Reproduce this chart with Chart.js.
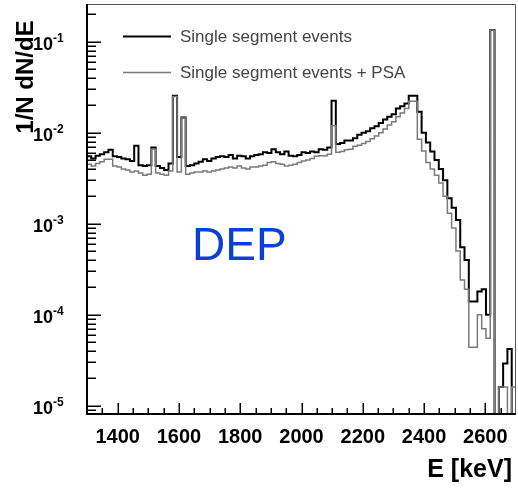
<!DOCTYPE html>
<html>
<head>
<meta charset="utf-8">
<script src="https://cdn.jsdelivr.net/npm/chart.js@4.4.1/dist/chart.umd.min.js"></script>
<style>
  html, body { margin: 0; padding: 0; background: #fff; }
  canvas { display: block; }
</style>
</head>
<body>
<canvas id="spectrum" width="518" height="488"></canvas>
<script>
// histogram, 100 bins of 14 keV starting at 1300 keV
const binStart = 1300;
const binWidth = 14;

// 1/N dN/dE per bin (0 = empty bin)
const singleSeg = [
  0.0055, 0.0052, 0.0056, 0.0058, 0.0061, 0.0065, 0.0055, 0.0054, 0.0052, 0.0051,
  0.0049, 0.0072, 0.0044, 0.0043, 0.0044, 0.0069, 0.0043, 0.0041, 0.0039, 0.0046,
  0.0255, 0.0054, 0.0147, 0.0043, 0.0044, 0.0046, 0.0048, 0.0051, 0.0049, 0.0052,
  0.0054, 0.0055, 0.0054, 0.0057, 0.0052, 0.0056, 0.0055, 0.0052, 0.0055, 0.0057,
  0.0058, 0.0061, 0.0060, 0.0066, 0.0061, 0.0058, 0.0062, 0.0056, 0.0055, 0.0057,
  0.0061, 0.0060, 0.0062, 0.0061, 0.0066, 0.0065, 0.0069, 0.0224, 0.0075, 0.0077,
  0.0082, 0.0082, 0.0087, 0.0095, 0.0100, 0.0104, 0.0112, 0.0118, 0.0128, 0.0140,
  0.0150, 0.0160, 0.0185, 0.0195, 0.0210, 0.0255, 0.0255, 0.0170, 0.0100, 0.0078,
  0.0062, 0.0050, 0.0040, 0.0030, 0.0019, 0.0015, 0.0011, 0.00055, 0.00040, 0.00014,
  0.00014, 0.00018, 0.00019, 0.00010, 0.135, 0, 1.6e-5, 2.9e-5, 4.2e-5, 0
];
const singleSegPSA = [
  0.0045, 0.0043, 0.0046, 0.0048, 0.0051, 0.0051, 0.0043, 0.0042, 0.0040, 0.0039,
  0.0037, 0.0038, 0.0036, 0.0034, 0.0035, 0.0066, 0.0036, 0.0035, 0.0034, 0.0038,
  0.0250, 0.0037, 0.0145, 0.0035, 0.0036, 0.0037, 0.0037, 0.0038, 0.0037, 0.0038,
  0.0039, 0.0040, 0.0041, 0.0042, 0.0041, 0.0043, 0.0041, 0.0040, 0.0042, 0.0042,
  0.0043, 0.0044, 0.0047, 0.0048, 0.0046, 0.0045, 0.0043, 0.0044, 0.0045, 0.0047,
  0.0049, 0.0050, 0.0052, 0.0055, 0.0056, 0.0056, 0.0058, 0.0119, 0.0061, 0.0062,
  0.0065, 0.0066, 0.0071, 0.0073, 0.0076, 0.0080, 0.0086, 0.0092, 0.0100, 0.0110,
  0.0122, 0.0132, 0.0150, 0.0165, 0.0185, 0.0222, 0.0222, 0.0085, 0.0063, 0.0047,
  0.0040, 0.0034, 0.0028, 0.0020, 0.0013, 0.0009, 0.0005, 0.00024, 0.00019, 0.000044,
  0.000044, 0.00010, 0.00007, 0.000055, 0.135, 0, 1.6e-5, 1.6e-5, 0, 1.6e-5
];

const xTickLabels = ['1400', '1600', '1800', '2000', '2200', '2400', '2600'];
const yDecades = [-5, -4, -3, -2, -1];
const legendLabels = ['Single segment events', 'Single segment events + PSA'];

const FONT = '"Liberation Sans", Arial, Helvetica, sans-serif';

// bin contents -> step points at the bin edges; empty bins fall below the axis
function toSteps(values) {
  const pts = values.map((v, i) => ({ x: binStart + i * binWidth, y: v > 0 ? v : 1e-7 }));
  pts.push({ x: binStart + values.length * binWidth, y: pts[pts.length - 1].y });
  return pts;
}

// ROOT-like frame: inward ticks, 10^n labels, legend and the DEP note
const rootFrame = {
  id: 'rootFrame',
  afterDraw(chart) {
    const { ctx, chartArea: a } = chart;
    const xs = chart.scales.x, ys = chart.scales.y;
    ctx.save();

    ctx.strokeStyle = '#555';
    ctx.lineWidth = 1;
    ctx.beginPath();
    ctx.moveTo(a.left, a.top + 0.5);
    ctx.lineTo(a.right - 0.5, a.top + 0.5);
    ctx.lineTo(a.right - 0.5, a.bottom);
    ctx.stroke();

    ctx.strokeStyle = '#000';
    ctx.lineWidth = 2;
    ctx.beginPath();
    ctx.moveTo(a.left, a.top);
    ctx.lineTo(a.left, a.bottom);
    ctx.lineTo(a.right, a.bottom);
    ctx.stroke();

    // y ticks
    ctx.lineWidth = 1.5;
    for (let d = -6; d <= 0; d++) {
      for (let m = 1; m < 10; m++) {
        const v = m * Math.pow(10, d);
        if (v < ys.min || v > ys.max) continue;
        const py = Math.round(ys.getPixelForValue(v)) + 0.25;
        ctx.beginPath();
        ctx.moveTo(a.left, py);
        ctx.lineTo(a.left + (m === 1 ? 14 : 9), py);
        ctx.stroke();
      }
    }
    // x ticks every 50 keV, long ones every 200
    for (let e = 1350; e < 2700; e += 50) {
      const px = Math.round(xs.getPixelForValue(e)) + 0.25;
      ctx.beginPath();
      ctx.moveTo(px, a.bottom);
      ctx.lineTo(px, a.bottom - (e % 200 === 0 ? 11 : 6));
      ctx.stroke();
    }

    ctx.fillStyle = '#000';
    // x labels
    ctx.font = 'bold 20px ' + FONT;
    ctx.textAlign = 'center';
    ctx.textBaseline = 'middle';
    xTickLabels.forEach(t => ctx.fillText(t, xs.getPixelForValue(Number(t)), 437));

    // y labels 10^n
    yDecades.forEach(e => {
      const py = ys.getPixelForValue(Math.pow(10, e));
      ctx.font = 'bold 18px ' + FONT;
      ctx.textAlign = 'right';
      ctx.textBaseline = 'middle';
      ctx.fillText('10', 53, py + 3);
      ctx.font = 'bold 12px ' + FONT;
      ctx.textAlign = 'left';
      ctx.fillText('-' + Math.abs(e), 53, py - 3);
    });

    // axis titles
    ctx.font = 'bold 25px ' + FONT;
    ctx.textAlign = 'right';
    ctx.textBaseline = 'middle';
    ctx.fillText('E [keV]', 512, 470);

    ctx.save();
    ctx.translate(26, 77);
    ctx.rotate(-Math.PI / 2);
    ctx.font = 'bold 24px ' + FONT;
    ctx.textAlign = 'center';
    ctx.fillText('1/N dN/dE', 0, 0);
    ctx.restore();

    // legend
    const ds = chart.data.datasets;
    [ds[1], ds[0]].forEach((d, i) => {
      const ly = 36.5 + i * 36;
      ctx.strokeStyle = d.borderColor;
      ctx.lineWidth = d.borderWidth;
      ctx.beginPath();
      ctx.moveTo(123, ly);
      ctx.lineTo(171, ly);
      ctx.stroke();
      ctx.fillStyle = '#444';
      ctx.font = '17px ' + FONT;
      ctx.textAlign = 'left';
      ctx.fillText(d.label, 180, ly + 1);
    });

    // DEP note
    ctx.fillStyle = '#0b3fd6';
    ctx.font = '46px ' + FONT;
    ctx.textAlign = 'left';
    ctx.textBaseline = 'alphabetic';
    ctx.fillText('DEP', 192, 260);

    ctx.restore();
  }
};

new Chart(document.getElementById('spectrum'), {
  type: 'line',
  data: {
    datasets: [
      {
        label: legendLabels[1],
        data: toSteps(singleSegPSA),
        borderColor: '#7a7a7a',
        borderWidth: 1.5,
        stepped: 'before',
        pointRadius: 0,
        fill: false,
        order: 0
      },
      {
        label: legendLabels[0],
        data: toSteps(singleSeg),
        borderColor: '#000',
        borderWidth: 2,
        stepped: 'before',
        pointRadius: 0,
        fill: false,
        order: 1
      }
    ]
  },
  options: {
    responsive: false,
    animation: false,
    devicePixelRatio: 1,
    layout: { padding: { left: 87, right: 2, top: 4, bottom: 74 } },
    plugins: { legend: { display: false }, tooltip: { enabled: false } },
    scales: {
      x: { type: 'linear', min: 1300, max: 2700, display: false },
      y: { type: 'logarithmic', min: 8.1e-6, max: 0.26, display: false }
    }
  },
  plugins: [rootFrame]
});
</script>
</body>
</html>
